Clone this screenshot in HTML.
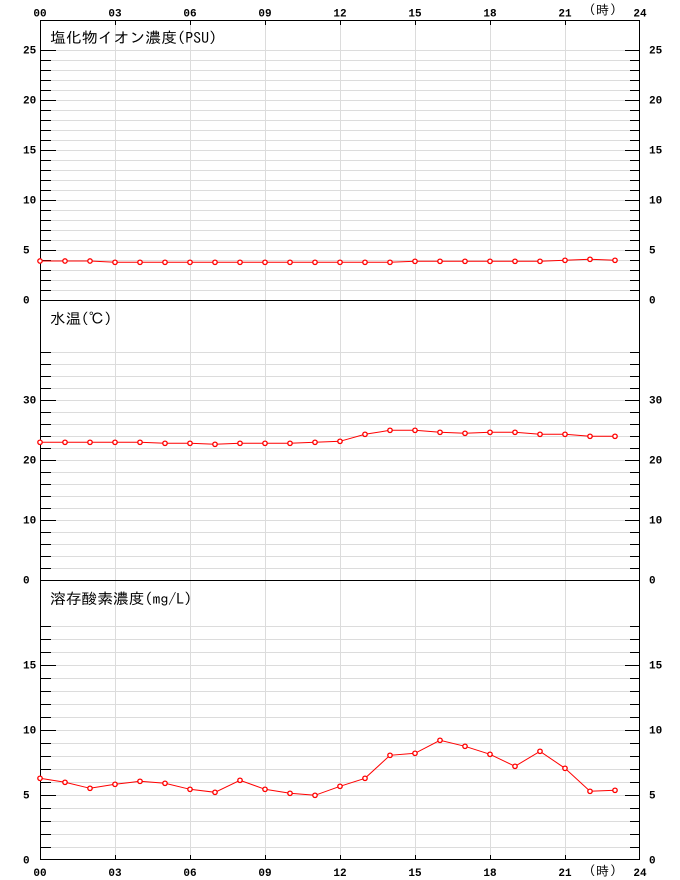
<!DOCTYPE html>
<html><head><meta charset="utf-8"><style>
html,body{margin:0;padding:0;background:#fff;}
svg{display:block;}
.ax{font-family:"Liberation Mono",monospace;font-weight:bold;font-size:11px;fill:#000;}
.tt{font-family:"IPAGothic","Noto Sans CJK JP",sans-serif;font-size:15px;fill:#000;}
.hr{font-family:"IPAGothic","Noto Sans CJK JP",sans-serif;font-size:13px;fill:#000;}
</style></head><body>
<svg width="680" height="880" viewBox="0 0 680 880" xmlns="http://www.w3.org/2000/svg">
<rect width="680" height="880" fill="#fff"/>
<!-- gray grid -->
<g stroke="#dcdcdc" stroke-width="1" fill="none">
<path d="M115.5 20V860M190.5 20V860M265.5 20V860M340.5 20V860M415.5 20V860M490.5 20V860M565.5 20V860"/>
<path d="M40 290.5H640M40 280.5H640M40 270.5H640M40 260.5H640M40 250.5H640M40 240.5H640M40 230.5H640M40 220.5H640M40 210.5H640M40 200.5H640M40 190.5H640M40 180.5H640M40 170.5H640M40 160.5H640M40 150.5H640M40 140.5H640M40 130.5H640M40 120.5H640M40 110.5H640M40 100.5H640M40 90.5H640M40 80.5H640M40 70.5H640M40 60.5H640M40 50.5H640"/>
<path d="M40 568.5H640M40 556.5H640M40 544.5H640M40 532.5H640M40 520.5H640M40 508.5H640M40 496.5H640M40 484.5H640M40 472.5H640M40 460.5H640M40 448.5H640M40 436.5H640M40 424.5H640M40 412.5H640M40 400.5H640M40 388.5H640M40 376.5H640M40 364.5H640M40 352.5H640"/>
<path d="M40 847.5H640M40 834.5H640M40 821.5H640M40 808.5H640M40 795.5H640M40 782.5H640M40 769.5H640M40 756.5H640M40 743.5H640M40 730.5H640M40 717.5H640M40 704.5H640M40 691.5H640M40 678.5H640M40 665.5H640M40 652.5H640M40 639.5H640M40 626.5H640"/>
</g>
<!-- ticks -->
<g stroke="#000" stroke-width="1" fill="none">
<path d="M40 290.5H51M40 280.5H51M40 270.5H51M40 260.5H51M40 250.5H56M40 240.5H51M40 230.5H51M40 220.5H51M40 210.5H51M40 200.5H56M40 190.5H51M40 180.5H51M40 170.5H51M40 160.5H51M40 150.5H56M40 140.5H51M40 130.5H51M40 120.5H51M40 110.5H51M40 100.5H56M40 90.5H51M40 80.5H51M40 70.5H51M40 60.5H51M40 50.5H56"/>
<path d="M640 290.5H630M640 280.5H630M640 270.5H630M640 260.5H630M640 250.5H625M640 240.5H630M640 230.5H630M640 220.5H630M640 210.5H630M640 200.5H625M640 190.5H630M640 180.5H630M640 170.5H630M640 160.5H630M640 150.5H625M640 140.5H630M640 130.5H630M640 120.5H630M640 110.5H630M640 100.5H625M640 90.5H630M640 80.5H630M640 70.5H630M640 60.5H630M640 50.5H625"/>
<path d="M40 568.5H51M40 556.5H51M40 544.5H51M40 532.5H51M40 520.5H56M40 508.5H51M40 496.5H51M40 484.5H51M40 472.5H51M40 460.5H56M40 448.5H51M40 436.5H51M40 424.5H51M40 412.5H51M40 400.5H56M40 388.5H51M40 376.5H51M40 364.5H51M40 352.5H51"/>
<path d="M640 568.5H630M640 556.5H630M640 544.5H630M640 532.5H630M640 520.5H625M640 508.5H630M640 496.5H630M640 484.5H630M640 472.5H630M640 460.5H625M640 448.5H630M640 436.5H630M640 424.5H630M640 412.5H630M640 400.5H625M640 388.5H630M640 376.5H630M640 364.5H630M640 352.5H630"/>
<path d="M40 847.5H51M40 834.5H51M40 821.5H51M40 808.5H51M40 795.5H56M40 782.5H51M40 769.5H51M40 756.5H51M40 743.5H51M40 730.5H56M40 717.5H51M40 704.5H51M40 691.5H51M40 678.5H51M40 665.5H56M40 652.5H51M40 639.5H51M40 626.5H51"/>
<path d="M640 847.5H630M640 834.5H630M640 821.5H630M640 808.5H630M640 795.5H625M640 782.5H630M640 769.5H630M640 756.5H630M640 743.5H630M640 730.5H625M640 717.5H630M640 704.5H630M640 691.5H630M640 678.5H630M640 665.5H625M640 652.5H630M640 639.5H630M640 626.5H630"/>
<path d="M115.5 20V25M190.5 20V25M265.5 20V25M340.5 20V25M415.5 20V25M490.5 20V25M565.5 20V25"/>
<path d="M115.5 860V855M190.5 860V855M265.5 860V855M340.5 860V855M415.5 860V855M490.5 860V855M565.5 860V855"/>
<rect x="40.5" y="20.5" width="599" height="839"/>
<path d="M40 300.5H640M40 580.5H640"/>
</g>
<!-- hour labels -->
<g class="ax" text-anchor="middle">
<text x="40" y="16.5">00</text><text x="115" y="16.5">03</text><text x="190" y="16.5">06</text><text x="265" y="16.5">09</text><text x="340" y="16.5">12</text><text x="415" y="16.5">15</text><text x="490" y="16.5">18</text><text x="565" y="16.5">21</text><text x="640" y="16.5">24</text>
<text x="40" y="876">00</text><text x="115" y="876">03</text><text x="190" y="876">06</text><text x="265" y="876">09</text><text x="340" y="876">12</text><text x="415" y="876">15</text><text x="490" y="876">18</text><text x="565" y="876">21</text><text x="640" y="876">24</text>
</g>
<g class="hr">
<text x="589" y="14">(</text><text x="596" y="14.5" font-size="13">時</text><text x="610" y="14">)</text>
<text x="589" y="875">(</text><text x="596" y="875.5" font-size="13">時</text><text x="610" y="875">)</text>
</g>
<!-- y labels -->
<g class="ax">
<text x="23" y="303.5">0</text><text x="23" y="253.5">5</text><text x="23" y="203.5">10</text><text x="23" y="153.5">15</text><text x="23" y="103.5">20</text><text x="23" y="53.5">25</text>
<text x="649" y="303.5">0</text><text x="649" y="253.5">5</text><text x="649" y="203.5">10</text><text x="649" y="153.5">15</text><text x="649" y="103.5">20</text><text x="649" y="53.5">25</text>
<text x="23" y="583.5">0</text><text x="23" y="523.5">10</text><text x="23" y="463.5">20</text><text x="23" y="403.5">30</text>
<text x="649" y="583.5">0</text><text x="649" y="523.5">10</text><text x="649" y="463.5">20</text><text x="649" y="403.5">30</text>
<text x="23" y="863.5">0</text><text x="23" y="798.5">5</text><text x="23" y="733.5">10</text><text x="23" y="668.5">15</text>
<text x="649" y="863.5">0</text><text x="649" y="798.5">5</text><text x="649" y="733.5">10</text><text x="649" y="668.5">15</text>
</g>
<!-- titles -->
<text class="tt" x="50" y="43" textLength="167" lengthAdjust="spacingAndGlyphs">塩化物イオン濃度(PSU)</text>
<text class="tt" x="50" y="324" textLength="62" lengthAdjust="spacingAndGlyphs">水温(℃)</text>
<text class="tt" x="50" y="604" textLength="142" lengthAdjust="spacingAndGlyphs">溶存酸素濃度(mg/L)</text>
<!-- series -->
<g stroke="#f00" stroke-width="1" fill="none">
<polyline points="40,261 65,261 90,261 115,262.3 140,262.3 165,262.3 190,262.3 215,262.3 240,262.3 265,262.3 290,262.3 315,262.3 340,262.3 365,262.3 390,262.3 415,261.3 440,261.3 465,261.3 490,261.3 515,261.3 540,261.3 565,260.3 590,259.3 615,260.3"/>
<polyline points="40,442.3 65,442.3 90,442.3 115,442.3 140,442.3 165,443.3 190,443.3 215,444.3 240,443.3 265,443.3 290,443.3 315,442.3 340,441.3 365,434.3 390,430.3 415,430.3 440,432.3 465,433.3 490,432.3 515,432.3 540,434.3 565,434.3 590,436.3 615,436.3"/>
<polyline points="40,778.3 65,782.3 90,788.3 115,784.3 140,781.3 165,783.3 190,789.3 215,792.3 240,780.3 265,789.3 290,793.3 315,795.3 340,786.3 365,778.3 390,755.3 415,753.3 440,740.3 465,746.3 490,754.3 515,766.3 540,751.3 565,768.3 590,791.3 615,790.3"/>
</g>
<g stroke="#f00" stroke-width="1.3" fill="#fff">
<circle cx="40" cy="261" r="2.2"/><circle cx="65" cy="261" r="2.2"/><circle cx="90" cy="261" r="2.2"/><circle cx="115" cy="262.3" r="2.2"/><circle cx="140" cy="262.3" r="2.2"/><circle cx="165" cy="262.3" r="2.2"/><circle cx="190" cy="262.3" r="2.2"/><circle cx="215" cy="262.3" r="2.2"/><circle cx="240" cy="262.3" r="2.2"/><circle cx="265" cy="262.3" r="2.2"/><circle cx="290" cy="262.3" r="2.2"/><circle cx="315" cy="262.3" r="2.2"/><circle cx="340" cy="262.3" r="2.2"/><circle cx="365" cy="262.3" r="2.2"/><circle cx="390" cy="262.3" r="2.2"/><circle cx="415" cy="261.3" r="2.2"/><circle cx="440" cy="261.3" r="2.2"/><circle cx="465" cy="261.3" r="2.2"/><circle cx="490" cy="261.3" r="2.2"/><circle cx="515" cy="261.3" r="2.2"/><circle cx="540" cy="261.3" r="2.2"/><circle cx="565" cy="260.3" r="2.2"/><circle cx="590" cy="259.3" r="2.2"/><circle cx="615" cy="260.3" r="2.2"/>
<circle cx="40" cy="442.3" r="2.2"/><circle cx="65" cy="442.3" r="2.2"/><circle cx="90" cy="442.3" r="2.2"/><circle cx="115" cy="442.3" r="2.2"/><circle cx="140" cy="442.3" r="2.2"/><circle cx="165" cy="443.3" r="2.2"/><circle cx="190" cy="443.3" r="2.2"/><circle cx="215" cy="444.3" r="2.2"/><circle cx="240" cy="443.3" r="2.2"/><circle cx="265" cy="443.3" r="2.2"/><circle cx="290" cy="443.3" r="2.2"/><circle cx="315" cy="442.3" r="2.2"/><circle cx="340" cy="441.3" r="2.2"/><circle cx="365" cy="434.3" r="2.2"/><circle cx="390" cy="430.3" r="2.2"/><circle cx="415" cy="430.3" r="2.2"/><circle cx="440" cy="432.3" r="2.2"/><circle cx="465" cy="433.3" r="2.2"/><circle cx="490" cy="432.3" r="2.2"/><circle cx="515" cy="432.3" r="2.2"/><circle cx="540" cy="434.3" r="2.2"/><circle cx="565" cy="434.3" r="2.2"/><circle cx="590" cy="436.3" r="2.2"/><circle cx="615" cy="436.3" r="2.2"/>
<circle cx="40" cy="778.3" r="2.2"/><circle cx="65" cy="782.3" r="2.2"/><circle cx="90" cy="788.3" r="2.2"/><circle cx="115" cy="784.3" r="2.2"/><circle cx="140" cy="781.3" r="2.2"/><circle cx="165" cy="783.3" r="2.2"/><circle cx="190" cy="789.3" r="2.2"/><circle cx="215" cy="792.3" r="2.2"/><circle cx="240" cy="780.3" r="2.2"/><circle cx="265" cy="789.3" r="2.2"/><circle cx="290" cy="793.3" r="2.2"/><circle cx="315" cy="795.3" r="2.2"/><circle cx="340" cy="786.3" r="2.2"/><circle cx="365" cy="778.3" r="2.2"/><circle cx="390" cy="755.3" r="2.2"/><circle cx="415" cy="753.3" r="2.2"/><circle cx="440" cy="740.3" r="2.2"/><circle cx="465" cy="746.3" r="2.2"/><circle cx="490" cy="754.3" r="2.2"/><circle cx="515" cy="766.3" r="2.2"/><circle cx="540" cy="751.3" r="2.2"/><circle cx="565" cy="768.3" r="2.2"/><circle cx="590" cy="791.3" r="2.2"/><circle cx="615" cy="790.3" r="2.2"/>
</g>
</svg>
</body></html>
